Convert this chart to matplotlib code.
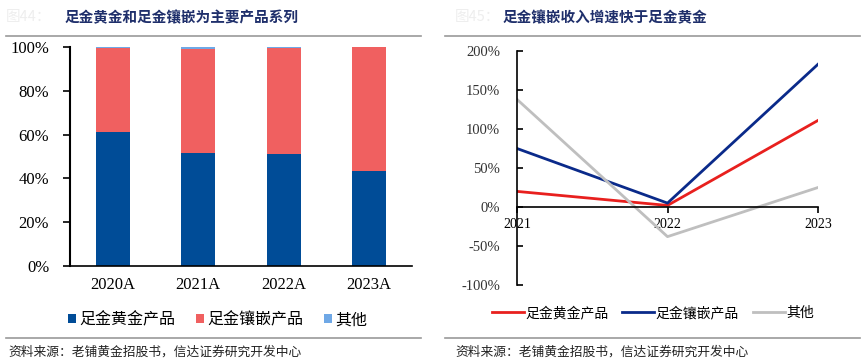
import matplotlib
matplotlib.use("Agg")
import matplotlib.pyplot as plt
from matplotlib.lines import Line2D
import numpy as np

plt.rcParams['font.family'] = ['Liberation Serif', 'Noto Sans CJK SC', 'DejaVu Sans']

# 左图：产品结构占比
years_a = ["2020A", "2021A", "2022A", "2023A"]
gold = [61.0, 51.5, 51.0, 43.5]
inlay = [38.7, 47.5, 48.7, 56.5]
other = [0.3, 1.0, 0.3, 0.0]

# 右图：收入增速
years_b = ["2021", "2022", "2023"]
gold_g = [20, 2, 111]
inlay_g = [75, 5, 183]
other_g = [138, -38, 25]

cjk = ['Noto Sans CJK SC', 'DejaVu Sans']
title_c = "#1f2f6b"

fig = plt.figure(figsize=(8.66, 3.64), dpi=100)

# 标题与分隔线
fig.text(6/866, 1-17/364, "图44：", fontsize=10.5, color="#eeeeee", family=cjk, va="center")
fig.text(65/866, 1-17/364, "足金黄金和足金镶嵌为主要产品系列", fontsize=10.5, color=title_c,
         family=cjk, va="center", fontweight="bold")
fig.text(455/866, 1-17/364, "图45：", fontsize=10.5, color="#eeeeee", family=cjk, va="center")
fig.text(503/866, 1-17/364, "足金镶嵌收入增速快于足金黄金", fontsize=10.5, color=title_c,
         family=cjk, va="center", fontweight="bold")
for x0, x1 in [(6, 421), (445, 860)]:
    fig.add_artist(Line2D([x0/866, x1/866], [1-36/364, 1-36/364], color="#999999", lw=1.2))
    fig.add_artist(Line2D([x0/866, x1/866], [1-338/364, 1-338/364], color="#999999", lw=1.2))
fig.text(8/866, 1-352/364, "资料来源：老铺黄金招股书，信达证券研究开发中心", fontsize=9.2,
         color="#222222", family=cjk, va="center")
fig.text(455/866, 1-352/364, "资料来源：老铺黄金招股书，信达证券研究开发中心", fontsize=9.2,
         color="#222222", family=cjk, va="center")

# 左图
ax1 = fig.add_axes([70/866, 1-266/364, 342/866, 219/364])
x = np.arange(len(years_a))
c_gold, c_inlay, c_other = "#004c97", "#f06060", "#6fa8e6"
ax1.bar(x, gold, width=0.4, color=c_gold, label="足金黄金产品")
ax1.bar(x, inlay, width=0.4, bottom=gold, color=c_inlay, label="足金镶嵌产品")
ax1.bar(x, other, width=0.4, bottom=np.array(gold)+np.array(inlay), color=c_other, label="其他")
ax1.set_xlim(-0.5, 3.5)
ax1.set_ylim(0, 100)
ax1.set_yticks(range(0, 101, 20))
ax1.set_yticklabels([f"{v}%" for v in range(0, 101, 20)], fontsize=12)
ax1.set_xticks(x)
ax1.set_xticklabels(years_a, fontsize=12)
ax1.tick_params(axis="x", length=0, pad=8)
ax1.tick_params(axis="y", direction="out", length=5, width=1.2, pad=10)
for s in ["top", "right"]:
    ax1.spines[s].set_visible(False)
ax1.spines["left"].set_linewidth(1.5)
ax1.spines["bottom"].set_linewidth(1.2)
ax1.legend(loc="center", bbox_to_anchor=(148/342, -0.245), ncol=3, frameon=False,
           prop={'family': cjk, 'size': 11.5}, handlelength=0.5, handleheight=0.5,
           handletextpad=0.2, columnspacing=1.3)

# 右图
ax2 = fig.add_axes([517/866, 1-285/364, 301/866, 234/364])
xb = np.arange(len(years_b))
ax2.plot(xb, gold_g, color="#e8201e", lw=2, label="足金黄金产品")
ax2.plot(xb, inlay_g, color="#0a2a8a", lw=2, label="足金镶嵌产品")
ax2.plot(xb, other_g, color="#bfbfbf", lw=2, label="其他")
ax2.set_xlim(0, 2)
ax2.set_ylim(-100, 200)
ax2.set_yticks(range(-100, 201, 50))
ax2.set_yticklabels([f"{v}%" for v in range(-100, 201, 50)], fontsize=10.5, color="#333333")
ax2.set_xticks(xb)
ax2.set_xticklabels(years_b, fontsize=10.5, color="#333333")
ax2.spines["bottom"].set_position(("data", 0))
for s in ["top", "right"]:
    ax2.spines[s].set_visible(False)
ax2.spines["left"].set_linewidth(1.2)
ax2.spines["bottom"].set_linewidth(1.2)
ax2.tick_params(axis="y", direction="in", length=4, width=1.2, pad=12)
ax2.tick_params(axis="x", direction="out", length=4, width=1.2, pad=4)
ax2.legend(loc="center", bbox_to_anchor=(136/301, -0.12), ncol=3, frameon=False,
           prop={'family': cjk, 'size': 10}, handlelength=2.3, handletextpad=0.1,
           columnspacing=1.0)

fig.savefig("out.png", dpi=100)
